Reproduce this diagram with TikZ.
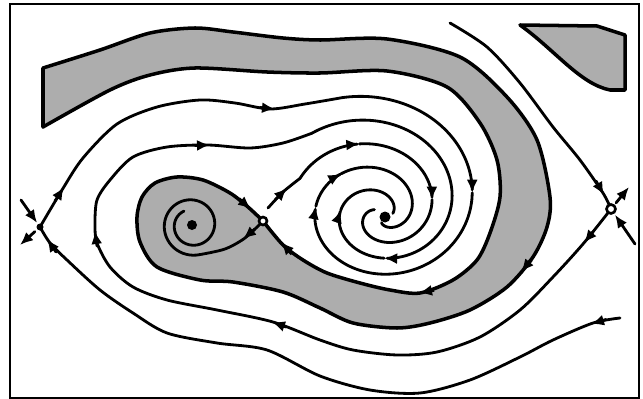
\documentclass[tikz,border=0pt]{standalone}
\usepackage{tikz}
\usetikzlibrary{arrows.meta}

\tikzset{
  traj/.style={line width=1.6pt, line cap=round, line join=round},
  bandline/.style={line width=2pt, line join=round},
  tipend/.style={-{Latex[length=2.6mm,width=2.2mm]}},
  stipple/.style={fill=black!32},
}

\begin{document}
\begin{tikzpicture}[x=0.2mm,y=-0.2mm,
  declare function={
    spx(\x,\y)=385+(\y-\x)/6*(1.13*cos(\x)-0.115);
    spy(\x,\y)=217+(\y-\x)/6*(sin(\x)-0.194);
    tdx(\x)=192+(30.6-(\x-75)/36)*cos(\x);
    tdy(\x)=225+(30.6-(\x-75)/36)*sin(\x);
  }]
  \useasboundingbox (0,0) rectangle (643,399);
  \draw[line width=1.1pt] (10,4) rectangle (639,398);

  % fixed points
  \coordinate (lsad) at (40,227);
  \coordinate (rsad) at (611,209);
  \coordinate (tsad) at (263,221);
  \coordinate (lcen) at (192,225);
  \coordinate (rcen) at (385,217);
  \coordinate (lin) at (21,200);
  \coordinate (lout) at (20,245);
  \coordinate (rout) at (629,187);
  \coordinate (rin) at (635,244);

  % shaded band bounded by the two stable branches of the middle saddle
  \filldraw[stipple,bandline] plot[smooth] coordinates {(43,68) (100,50) (150,33) (195,28) (233,32) (283,38) (320,40) (387,39) (460,57) (507,97) (537,140) (550,197) (547,227) (533,257) (507,287) (470,310) (430,323) (397,328) (353,323) (320,308) (283,292) (233,282) (200,280) (157,267) (140,242) (137,217) (142,197) (155,183) (177,177) (203,180) (230,193) (248,207) (263,221)}
    -- plot[smooth] coordinates {(263,221) (283,245) (303,260) (327,273) (360,283) (390,290) (420,293) (453,280) (477,260) (490,233) (500,197) (497,160) (480,123) (447,87) (387,71) (320,73) (267,72) (195,68) (150,75) (110,90) (43,127)} -- cycle;
  \draw[bandline,tipend] (531,260) -- (521,272);
  \draw[bandline,tipend] (239,199) -- (251,209);
  \draw[bandline,tipend] (434,290) -- (419,293);
  \draw[bandline,tipend] (292,254) -- (281,242);
  \filldraw[stipple,bandline] (520,25) -- (597,26) -- (625,35) -- (625,90) -- (610,90)
    .. controls (580,84) and (555,50) .. (520,25) -- cycle;

  % left saddle -> focus
  \draw[traj] plot[smooth] coordinates {(40,227) (62,190) (83,158) (117,124) (157,107) (200,100) (235,103) (270,109) (305,104) (343,97.5)};
  \draw[traj,tipend] (55,201) -- (64,187);
  \draw[traj,tipend] (260,107.5) -- (275,109);
  \foreach \a/\b in {255/355,355/540,540/585}
    \draw[traj,tipend] plot[domain=\a:\b,samples=40,smooth,variable=\t] ({spx(\t,873)},{spy(\t,873)});
  \draw[traj] plot[domain=585:828,samples=60,smooth,variable=\t] ({spx(\t,873)},{spy(\t,873)});

  % right saddle -> focus
  \draw[traj] plot[smooth] coordinates {(611,209) (583,244) (553,277) (520,310) (480,337) (437,352) (397,355) (353,350) (320,340) (273,322) (217,310) (167,300) (133,287) (110,267) (97,243) (95,225) (97,200) (110,180) (133,157) (167,147) (208,145) (250,148) (283,143) (311.7,133.3)};
  \draw[traj,tipend] (593,232) -- (584,243);
  \draw[traj,tipend] (286,327) -- (272,322);
  \draw[traj,tipend] (97,246) -- (95,231);
  \draw[traj,tipend] (195,145.5) -- (210,145);
  \foreach \a/\b in {230/445,445/540}
    \draw[traj,tipend] plot[domain=\a:\b,samples=50,smooth,variable=\t] ({spx(\t,753)},{spy(\t,753)});
  \draw[traj] plot[domain=540:705,samples=50,smooth,variable=\t] ({spx(\t,753)},{spy(\t,753)});

  % middle saddle -> focus
  \draw[traj] plot[smooth] coordinates {(268,208) (283,192) (300.1,178.3)};
  \draw[traj,tipend] (275,200) -- (287,188);
  \foreach \a/\b in {200/255,255/350}
    \draw[traj,tipend] plot[domain=\a:\b,samples=30,smooth,variable=\t] ({spx(\t,633)},{spy(\t,633)});
  \draw[traj] plot[domain=350:573,samples=50,smooth,variable=\t] ({spx(\t,633)},{spy(\t,633)});

  % middle saddle -> left centre
  \draw[traj] plot[smooth] coordinates {(263,221) (245,238) (225,249) (199.9,254.6)};
  \draw[traj,tipend] (255,229) -- (243,239);
  \draw[traj] plot[domain=75:600,samples=80,smooth,variable=\t] ({tdx(\t)},{tdy(\t)});

  % stable branches of the outer saddles
  \draw[traj] plot[smooth] coordinates {(620,318) (593,323) (553,340) (520,357) (470,380) (420,393) (370,390) (320,376) (267,350) (217,343) (167,333) (133,313) (100,290) (67,260) (50,243) (40,227)};
  \draw[traj,tipend] (606,319.5) -- (591,324);
  \draw[traj,tipend] (56,252) -- (47,239);
  \draw[traj] plot[smooth] coordinates {(450,23) (487,47) (520,83) (553,127) (580,160) (603,193) (611,209)};
  \draw[traj,tipend] (596,181) -- (604,195);
  \draw[traj,tipend,shorten >=1mm] (lin) -- (lsad);
  \draw[traj,tipend,shorten <=1.4mm] (lsad) -- (lout);
  \draw[traj,tipend,shorten <=1.6mm] (rsad) -- (rout);
  \draw[traj,tipend,shorten >=1.4mm] (rin) -- (rsad);

  \fill (lsad) circle[radius=3.5];
  \fill (lcen) circle[radius=5];
  \fill (rcen) circle[radius=5.5];
  \filldraw[fill=white,line width=1.5pt] (tsad) circle[radius=4];
  \filldraw[fill=white,line width=1.5pt] (rsad) circle[radius=4.5];
\end{tikzpicture}
\end{document}
